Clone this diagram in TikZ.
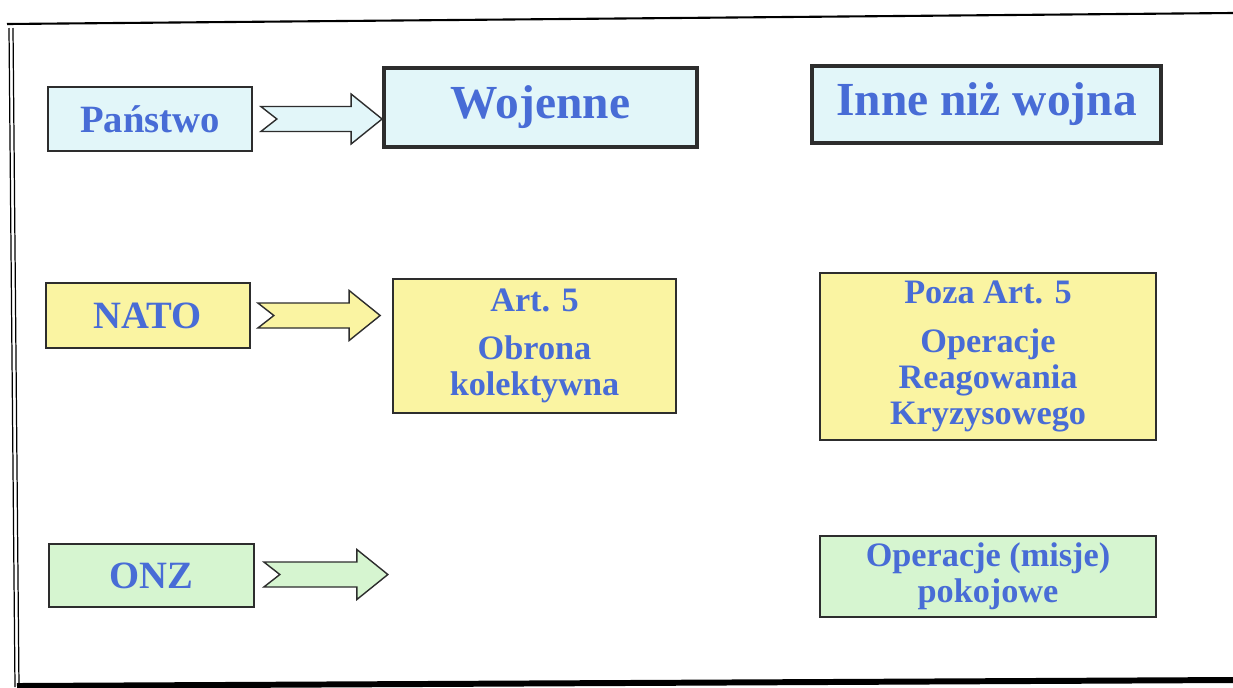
\documentclass[tikz,border=0pt]{standalone}
\usepackage{fontspec}
\setmainfont{Liberation Serif}
\usetikzlibrary{calc}

\definecolor{txtblue}{RGB}{72,108,214}
\definecolor{boxcyan}{RGB}{226,246,249}
\definecolor{boxyellow}{RGB}{250,244,162}
\definecolor{boxgreen}{RGB}{214,245,208}
\definecolor{edge}{RGB}{45,45,45}

\newcommand{\blockarrow}[3]{%
  \draw[edge, line width=0.8pt, line join=miter, fill=#1]
    ($(#2)+(0,-12.5)$) -- ($(#3)+(-31,-12.5)$) -- ($(#3)+(-31,-25)$) -- (#3)
    -- ($(#3)+(-31,25)$) -- ($(#3)+(-31,12.5)$) -- ($(#2)+(0,12.5)$)
    -- ($(#2)+(16,0)$) -- cycle;}

\begin{document}
\begin{tikzpicture}[x=0.02cm, y=-0.02cm,
  box/.style={draw=edge, line width=1pt, text=txtblue, align=center, inner sep=0pt},
  head/.style={box, line width=2.2pt, font=\bfseries\fontsize{27}{30}\selectfont},
  who/.style={box, font=\bfseries\fontsize{22}{24}\selectfont},
  kind/.style={box, font=\bfseries\fontsize{19.5}{20.5}\selectfont}]
\useasboundingbox (0,0) rectangle (1233,687);
\fill[white] (0,0) rectangle (1233,687);

\draw[line width=1.2pt] (7,24) -- (1233,13);
\draw[line width=0.7pt] (9,28) -- (15,687);
\draw[line width=0.7pt] (13,28) -- (19,687);
\draw[line width=3.4pt] (17,686) -- (1233,680);

\node[who, fill=boxcyan, minimum width=4.08cm, minimum height=1.28cm] (P) at (150,119) {Państwo};
\node[head, fill=boxcyan, minimum width=6.26cm, minimum height=1.58cm] (W) at (540.5,107.5) {Wojenne};
\node[head, fill=boxcyan, minimum width=6.98cm, minimum height=1.54cm] (I) at (986.5,104.5) {Inne niż wojna};

\node[who, fill=boxyellow, minimum width=4.08cm, minimum height=1.30cm] (N) at (148,315.5) {NATO};
\node[kind, fill=boxyellow, minimum width=5.66cm, minimum height=2.68cm] (A) at (534.5,346) {Art. 5\\[7pt]Obrona\\kolektywna};
\node[kind, fill=boxyellow, minimum width=6.72cm, minimum height=3.34cm] (B) at (988,356.5) {Poza Art. 5\\[7pt]Operacje\\Reagowania\\Kryzysowego};

\node[who, fill=boxgreen, minimum width=4.10cm, minimum height=1.26cm] (O) at (151.5,575.5) {ONZ};
\node[kind, fill=boxgreen, minimum width=6.72cm, minimum height=1.62cm] (M) at (988,576.5) {Operacje (misje)\\pokojowe};

\coordinate (p1) at ($(P.east)+(8,0)$);
\coordinate (p2) at (W.west |- p1);
\coordinate (n1) at ($(N.east)+(7,0)$);
\coordinate (n2) at ($(A.west |- n1)+(-12,0)$);
\coordinate (o1) at ($(O.east)+(9,-1)$);
\coordinate (o2) at ($(o1)+(124,0)$);

\blockarrow{boxcyan}{p1}{p2}
\blockarrow{boxyellow}{n1}{n2}
\blockarrow{boxgreen}{o1}{o2}
\end{tikzpicture}
\end{document}
